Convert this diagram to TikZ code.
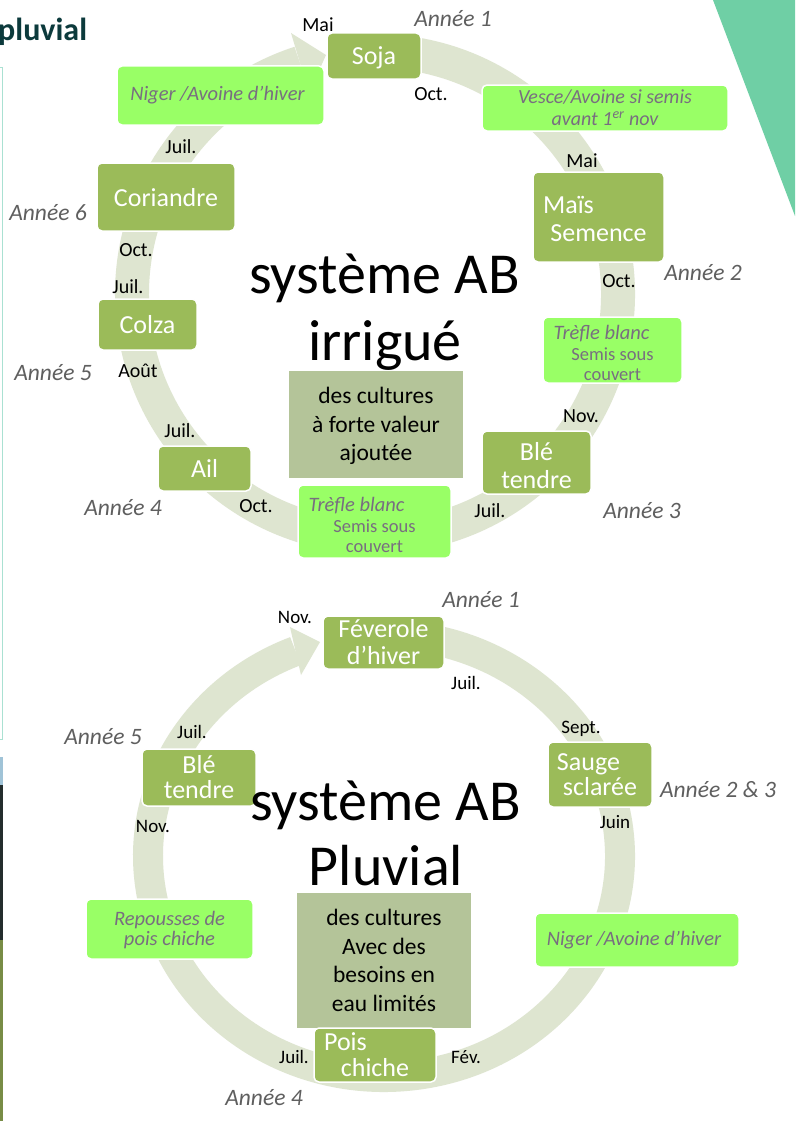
\documentclass[tikz,border=0pt]{standalone}
\usepackage{fontspec}
\setmainfont{Carlito}
\definecolor{ringc}{RGB}{222,229,208}
\definecolor{dgreen}{RGB}{155,187,89}
\definecolor{lgreen}{RGB}{153,255,102}
\definecolor{itgray}{RGB}{120,110,128}
\definecolor{yeargray}{RGB}{95,95,95}
\definecolor{goalc}{RGB}{180,196,153}
\definecolor{tealc}{RGB}{111,207,165}
\definecolor{edgec}{RGB}{170,225,210}
\definecolor{titlec}{RGB}{12,58,60}
\definecolor{photoa}{RGB}{160,195,215}
\definecolor{photob}{RGB}{35,45,45}
\definecolor{photoc}{RGB}{120,140,70}
\newcommand{\tallstrut}[1]{\rule{0pt}{#1}}
\begin{document}
\begin{tikzpicture}[x=1pt,y=-1pt,
  ringtop/.style={draw=ringc,line width=34pt},
  ringbot/.style={draw=ringc,line width=30pt},
  crop/.style={draw=white,line width=1.5pt,fill=dgreen,rounded corners=5pt,text=white,
    font=\fontsize{26}{28}\selectfont,align=center,inner sep=0pt},
  oneline/.style={text depth=0pt},
  cover/.style={draw=white,line width=1.5pt,fill=lgreen,rounded corners=5pt,text=itgray,
    font=\fontsize{20.5}{20.5}\selectfont,align=center,inner sep=0pt},
  month/.style={font=\fontsize{20}{22}\selectfont,inner sep=0pt,anchor=base},
  monthb/.style={font=\fontsize{19}{21}\selectfont,inner sep=0pt,anchor=base},
  year/.style={font=\fontsize{23.5}{25}\selectfont\itshape,text=yeargray,inner sep=0pt,anchor=base},
  big/.style={font=\fontsize{58}{60}\selectfont,inner sep=0pt,anchor=base},
  goal/.style={fill=goalc,align=center,font=\fontsize{23.5}{28.5}\selectfont,inner sep=0pt}]
\useasboundingbox (0,0) rectangle (795,1124);
\fill[white] (0,0) rectangle (795,1124);
% decorations of the page
\fill[tealc] (713,0) -- (795,0) -- (795,216) -- cycle;
\draw[edgec,line width=1pt] (-2,68) -- (2.5,68) -- (2.5,739) -- (-2,739);
\fill[photoa] (0,757) rectangle (3,785);
\fill[photob] (0,785) rectangle (3,940);
\fill[photoc] (0,940) rectangle (3,1121);
\node[font=\fontsize{32}{34}\selectfont\bfseries,text=titlec,inner sep=0pt,anchor=base west] (title) at (-2,41) {pluvial};

% ===== top cycle =====
\coordinate (c1) at (375,294);
\draw[ringtop] (c1) ++(262:243) arc[start angle=262,end angle=612,radius=243];
\fill[ringc] (291,33) -- (326,55) -- (309,93) -- cycle;

\node[crop,oneline,minimum width=94pt,minimum height=46pt] (soja) at (374,56) {Soja};
\node[cover,minimum width=207pt,minimum height=59pt] (nigerA) at (220.5,95.5) {\itshape Niger /Avoine d’hiver\hspace*{6pt}};
\node[cover,minimum width=246pt,minimum height=46pt,font=\fontsize{20}{22}\selectfont\itshape] (vesce) at (605,108) {Vesce/Avoine si semis\\avant 1\textsuperscript{er} nov};
\node[crop,minimum width=131pt,minimum height=90pt] (mais) at (598.5,217) {\tallstrut{21pt}Maïs\hspace*{60pt}\\Semence};
\node[cover,minimum width=139pt,minimum height=66pt] (trefA) at (612.5,350) {\tallstrut{21pt}\textit{Trèfle blanc}\hspace*{22pt}\\{\fontsize{18.5}{20}\selectfont Semis sous}\\{\fontsize{18.5}{20}\selectfont couvert}};
\node[crop,minimum width=109pt,minimum height=63pt] (bleA) at (536.5,462.5) {\tallstrut{24pt}Blé\\tendre};
\node[cover,minimum width=153pt,minimum height=73pt] (trefB) at (374.5,521.5) {\tallstrut{22pt}\textit{Trèfle blanc}\hspace*{36pt}\\{\fontsize{18.5}{20}\selectfont Semis sous}\\{\fontsize{18.5}{20}\selectfont couvert}};
\node[crop,oneline,minimum width=93pt,minimum height=45pt] (ail) at (204.5,468.5) {Ail};
\node[crop,oneline,minimum width=99pt,minimum height=51pt] (colza) at (147.5,324.5) {Colza};
\node[crop,oneline,minimum width=138pt,minimum height=68pt] (coriandre) at (166,197) {Coriandre};
\node[goal,minimum width=174pt,minimum height=107pt] (goalA) at (376,424.5) {\tallstrut{20pt}des cultures\\à forte valeur\\ajoutée};

\node[big] (titA1) at (384.5,293) {système AB};
\node[big] (titA2) at (385,360) {irrigué};

\node[month] (m1) at (318,32) {Mai};
\node[year] (y1) at (453,27) {Année 1};
\node[month] (m2) at (431,100) {Oct.};
\node[month] (m3) at (582,167) {Mai};
\node[month] (m4) at (619,287) {Oct.};
\node[year] (y2) at (703,280) {Année 2};
\node[month] (m5) at (581,422) {Nov.};
\node[month] (m6) at (490,517) {Juil.};
\node[year] (y3) at (642,518) {Année 3};
\node[month] (m7) at (256,512) {Oct.};
\node[year] (y4) at (123,515) {Année 4};
\node[month] (m8) at (180,437) {Juil.};
\node[month] (m9) at (138,377) {Août};
\node[year] (y5) at (53,380) {Année 5};
\node[month] (m10) at (128,293) {Juil.};
\node[month] (m11) at (136,256) {Oct.};
\node[year] (y6) at (48,220) {Année 6};
\node[month] (m12) at (181,153) {Juil.};

% ===== bottom cycle =====
\coordinate (c2) at (384,856);
\draw[ringbot] (c2) ++(262:236 and 221) arc[start angle=262,end angle=608,x radius=236,y radius=221];
\fill[ringc] (290,627) -- (320,642) -- (301,675) -- cycle;

\node[crop,minimum width=121pt,minimum height=53pt,font=\fontsize{26}{27}\selectfont] (fev) at (383.5,642.5) {Féverole\\d’hiver};
\node[crop,minimum width=104pt,minimum height=65pt,font=\fontsize{26}{25}\selectfont] (sauge) at (600,774.5) {Sauge\hspace*{23pt}\\sclarée};
\node[cover,minimum width=204pt,minimum height=54pt] (nigerB) at (637,940) {\itshape Niger /Avoine d’hiver\hspace*{6pt}};
\node[goal,minimum width=174pt,minimum height=135pt] (goalB) at (384,960.5) {des cultures\\Avec des\\besoins en\\eau limités};
\node[crop,minimum width=122pt,minimum height=54pt,font=\fontsize{26}{26}\selectfont] (pois) at (375,1055) {Pois\hspace*{59pt}\\chiche};
\node[cover,minimum width=167pt,minimum height=60pt,font=\fontsize{20.5}{20}\selectfont\itshape] (repousses) at (169.5,929) {\tallstrut{17pt}Repousses de\\pois chiche};
\node[crop,minimum width=114pt,minimum height=57pt,font=\fontsize{26}{25}\selectfont] (bleB) at (199,777.5) {Blé\\tendre};

\node[big] (titB1) at (385.5,820) {système AB};
\node[big] (titB2) at (386,885) {Pluvial};

\node[monthb] (n1) at (295,623) {Nov.};
\node[year] (z1) at (481,607) {Année 1};
\node[monthb] (n2) at (466,689) {Juil.};
\node[monthb] (n3) at (581,733) {Sept.};
\node[year] (z2) at (718,797) {Année 2 \& 3};
\node[monthb] (n4) at (615,828) {Juin};
\node[monthb] (n5) at (466,1063) {Fév.};
\node[monthb] (n6) at (294,1063) {Juil.};
\node[year] (z4) at (264,1105) {Année 4};
\node[monthb] (n7) at (153,832) {Nov.};
\node[monthb] (n8) at (192,738) {Juil.};
\node[year] (z5) at (103,744) {Année 5};
\end{tikzpicture}
\end{document}
